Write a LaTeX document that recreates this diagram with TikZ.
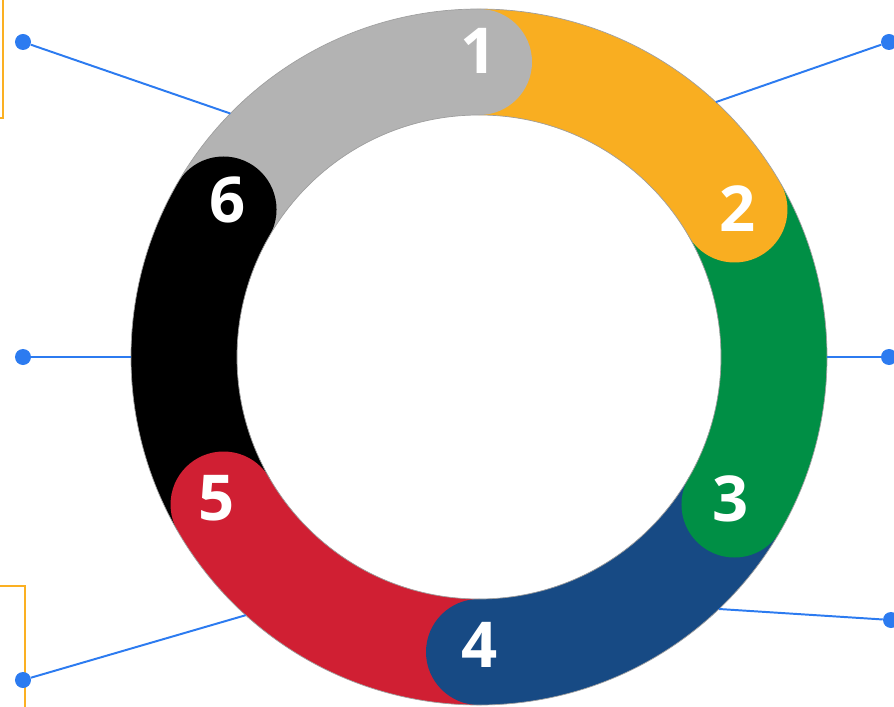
\documentclass[tikz,border=0pt]{standalone}
\usepackage{fontspec}
\newfontfamily\numfont{Open Sans}
\usetikzlibrary{calc}
\definecolor{ringgray}{RGB}{179,179,179}
\definecolor{ringorange}{RGB}{249,174,33}
\definecolor{ringgreen}{RGB}{0,143,69}
\definecolor{ringblue}{RGB}{23,74,132}
\definecolor{ringred}{RGB}{208,31,51}
\definecolor{pinblue}{RGB}{44,123,240}
\definecolor{boxorange}{RGB}{251,176,34}

\begin{document}
\begin{tikzpicture}[x=0.025cm,y=0.025cm,
  seg/.style={line width=2.65cm},
  num/.style={text=white,font=\numfont\bfseries\fontsize{45}{45}\selectfont,inner sep=0pt},
  pin/.style={circle,fill=pinblue,minimum size=0.4cm,inner sep=0pt},
  link/.style={pinblue,line width=1.4pt}]
\clip (0,0) rectangle (894,706);
\coordinate (c) at (479,349);
% cut-off text boxes
\draw[boxorange,line width=1.4pt] (-20,588) rectangle (3,730)
  (-20,-20) rectangle (25,120);
% ring
\foreach \a/\b/\col in {150/90/ringgray,90/30/ringorange,30/-30/ringgreen,-30/-90/ringblue,-90/-150/ringred,-150/-210/black}
  \draw[seg,\col] ($(c)+(\a:295)$) arc[start angle=\a,end angle=\b,radius=295];
\foreach \b/\col in {90/ringgray,30/ringorange,-30/ringgreen,-90/ringblue,-150/ringred,-210/black}
  \fill[\col] ($(c)+(\b:295)$) circle[radius=53];
\draw[gray!75,line width=0.5pt] (c) circle[radius=348] (c) circle[radius=242];
% numbers
\node[num] (n1) at (479,655) {1};
\node[num] (n2) at (738,497) {2};
\node[num] (n3) at (731,207) {3};
\node[num] (n4) at (480,61) {4};
\node[num] (n5) at (217,208) {5};
\node[num] (n6) at (228,506) {6};
% pins
\node[pin] (pTL) at (23,664) {};
\node[pin] (pTR) at (889,664) {};
\node[pin] (pML) at (23,349) {};
\node[pin] (pMR) at (889,349) {};
\node[pin] (pBR) at (891,86) {};
\node[pin] (pBL) at (23,26) {};
\coordinate (rTL) at ($(c)+(135.6:348)$);
\coordinate (rTR) at ($(c)+(47.1:348)$);
\coordinate (rML) at ($(c)+(180:348)$);
\coordinate (rMR) at ($(c)+(0:348)$);
\coordinate (rBR) at ($(c)+(-46.4:348)$);
\coordinate (rBL) at ($(c)+(-132.1:348)$);
\foreach \p in {TL,TR,ML,MR,BR,BL}
  \draw[link] (p\p) -- (r\p);
\end{tikzpicture}
\end{document}
